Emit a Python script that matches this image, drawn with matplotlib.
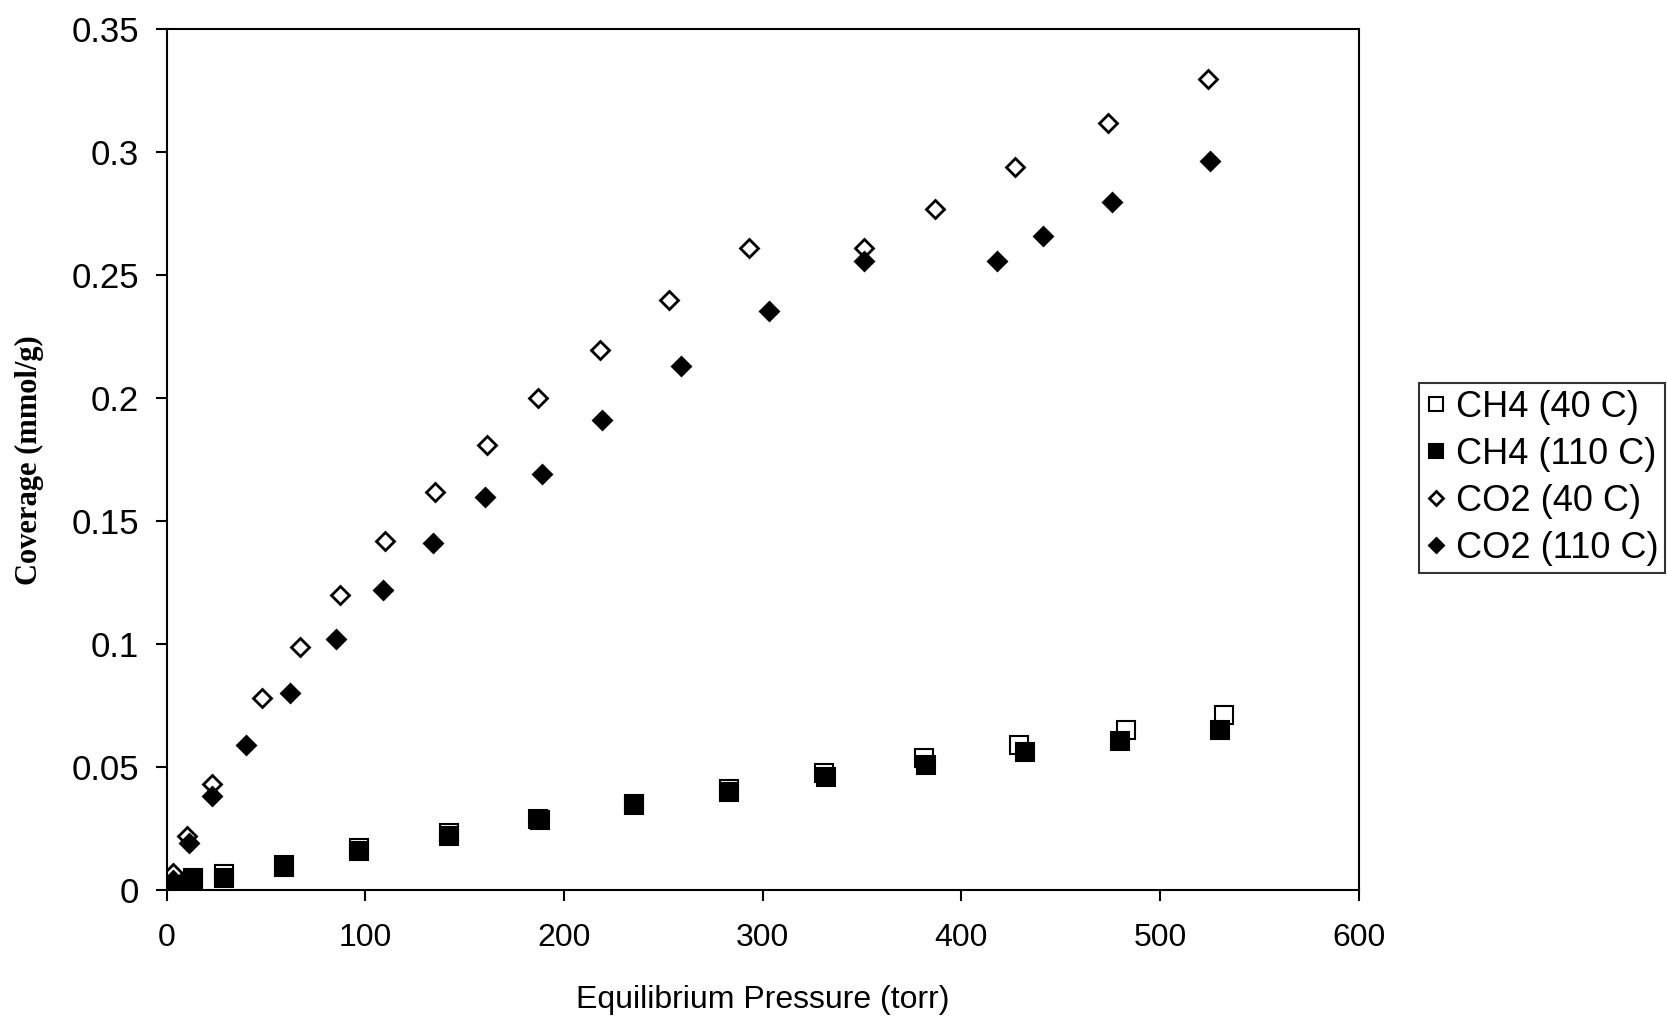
import matplotlib
matplotlib.use("Agg")
from matplotlib import pyplot as plt

# CH4 at 40 C (open squares)
ch4_40_p = [1, 4, 13, 29, 59, 97, 142, 187, 235, 283, 331, 381, 429, 483, 532]
ch4_40_c = [0.001, 0.003, 0.0048, 0.0065, 0.010, 0.017, 0.023, 0.029, 0.035, 0.041, 0.0475, 0.0536, 0.059, 0.065, 0.071]
# CH4 at 110 C (filled squares)
ch4_110_p = [1, 4, 13, 29, 59, 97, 142, 188, 235, 283, 332, 382, 432, 480, 530]
ch4_110_c = [0.0005, 0.002, 0.004, 0.0048, 0.0095, 0.016, 0.022, 0.0285, 0.0345, 0.040, 0.046, 0.051, 0.056, 0.0605, 0.065]
# CO2 at 40 C (open diamonds)
co2_40_p = [1, 3, 10, 23, 48, 67, 87, 110, 135, 161, 187, 218, 253, 293, 351, 387, 427, 474, 524]
co2_40_c = [0.002, 0.007, 0.022, 0.043, 0.078, 0.099, 0.120, 0.142, 0.162, 0.181, 0.200, 0.2195, 0.240, 0.261, 0.261, 0.277, 0.294, 0.312, 0.330]
# CO2 at 110 C (filled diamonds)
co2_110_p = [1, 3, 11, 23, 40, 62, 85, 109, 134, 160, 189, 219, 259, 303, 351, 418, 441, 476, 525]
co2_110_c = [0.001, 0.004, 0.019, 0.038, 0.059, 0.080, 0.102, 0.122, 0.141, 0.160, 0.169, 0.191, 0.213, 0.2355, 0.256, 0.256, 0.266, 0.280, 0.2965]

xticks = [0, 100, 200, 300, 400, 500, 600]
yticks = [0, 0.05, 0.1, 0.15, 0.2, 0.25, 0.3, 0.35]
ytick_labels = ['0', '0.05', '0.1', '0.15', '0.2', '0.25', '0.3', '0.35']

plt.rcParams['font.family'] = ['Liberation Sans', 'DejaVu Sans']

fig = plt.figure(figsize=(16.67, 10.17), dpi=100)
ax = fig.add_axes([0.100, 0.125, 0.715, 0.846])

ax.plot(ch4_40_p, ch4_40_c, 's', ms=13, mfc='white', mec='black', mew=1.5, label='CH4 (40 C)')
ax.plot(ch4_110_p, ch4_110_c, 's', ms=13, mfc='black', mec='black', mew=1.5, label='CH4 (110 C)')
ax.plot(co2_40_p, co2_40_c, 'D', ms=9, mfc='white', mec='black', mew=2, label='CO2 (40 C)')
ax.plot(co2_110_p, co2_110_c, 'D', ms=9, mfc='black', mec='black', mew=2, label='CO2 (110 C)')

ax.set_xlim(0, 600)
ax.set_ylim(0, 0.35)
ax.set_xticks(xticks)
ax.set_xticklabels([str(v) for v in xticks], fontsize=23)
ax.set_yticks(yticks)
ax.set_yticklabels(ytick_labels, fontsize=25)
ax.tick_params(axis='both', direction='out', length=8, width=1.5)
ax.tick_params(axis='x', pad=16)
ax.tick_params(axis='y', pad=12)
for s in ax.spines.values():
    s.set_linewidth(1.5)

ax.set_xlabel('Equilibrium Pressure (torr)', fontsize=23)
ax.xaxis.set_label_coords(0.5, -0.128)
ax.xaxis.label.set_va('center')
ax.set_ylabel('Coverage (mmol/g)', fontsize=22, family='Liberation Serif', fontweight='bold', labelpad=20)

leg = ax.legend(loc='center left', bbox_to_anchor=(1.051, 0.479), fontsize=26, frameon=True,
                fancybox=False, edgecolor='black', handlelength=0.5, handletextpad=0.3,
                borderpad=0.2, labelspacing=0.33, markerscale=0.75, borderaxespad=0)
leg.get_frame().set_linewidth(1.5)

fig.savefig('out.png', dpi=100)
